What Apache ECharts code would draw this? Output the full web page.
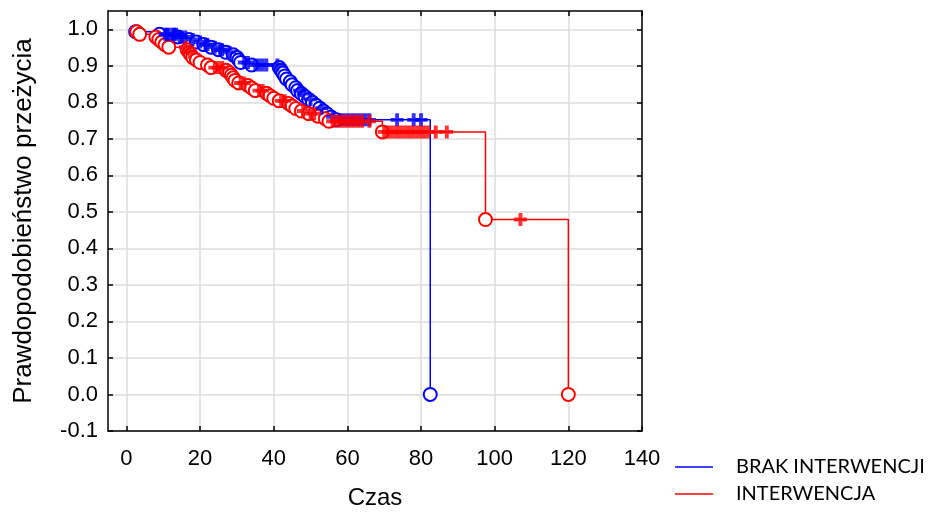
<!DOCTYPE html>
<html>
<head>
<meta charset="utf-8">
<script src="https://cdn.jsdelivr.net/npm/echarts@6/dist/echarts.min.js"></script>
<style>
  html, body { margin: 0; padding: 0; background: #fff; }
  #chart { width: 929px; height: 512px; }
</style>
</head>
<body>
<div id="chart"></div>
<script>
// Kaplan-Meier: event times and survival after each event
const blueTimes = [2.5, 9, 14, 17, 19, 21, 23, 25, 27, 29, 30, 30.5, 31, 34, 41.5, 42, 42.5, 43, 43.5, 44.5, 45, 46, 46.5, 47.5, 48.5, 49.5, 50.5, 51.5, 52.5, 53.5, 54.5, 55.5, 57, 82.5]
const blueSurv = [0.993, 0.986, 0.979, 0.972, 0.965, 0.958, 0.951, 0.944, 0.937, 0.93, 0.923, 0.916, 0.909, 0.902, 0.895, 0.888, 0.88, 0.872, 0.864, 0.856, 0.848, 0.84, 0.832, 0.824, 0.816, 0.808, 0.8, 0.792, 0.784, 0.776, 0.768, 0.76, 0.752, 0]
const blueCensored = [10.5, 11, 11.5, 12.5, 13, 13.5, 14.5, 15, 16, 18, 20, 21.5, 22, 24, 25.5, 26, 28, 32, 33, 35, 36, 37, 38, 41, 47, 48, 50, 53, 56, 58, 59, 60, 61, 62, 63, 64, 65, 66, 73.5, 78, 80]

const redTimes = [2.8, 3.6, 8, 8.8, 9.6, 10.5, 11.5, 16.5, 17, 17.5, 18, 19, 20, 22, 23, 27, 28, 28.5, 29, 29.5, 30.5, 33, 34, 35, 38, 39, 40, 41.5, 44, 45, 46, 47.5, 49.5, 52, 54, 55, 69.5, 97.5, 120]
const redSurv = [0.993, 0.986, 0.979, 0.972, 0.965, 0.958, 0.951, 0.944, 0.937, 0.93, 0.923, 0.916, 0.909, 0.902, 0.895, 0.888, 0.881, 0.874, 0.867, 0.86, 0.853, 0.846, 0.839, 0.832, 0.825, 0.818, 0.811, 0.804, 0.797, 0.79, 0.783, 0.776, 0.769, 0.762, 0.755, 0.748, 0.719, 0.479, 0]
const redCensored = [16, 17.2, 24, 25, 26, 31, 32, 36, 37, 42, 43, 48, 50, 51, 56, 57, 58, 59, 60, 61, 62, 63, 64, 66, 70, 71, 72, 73, 74, 75, 76, 77, 78, 79, 80, 81, 82, 84, 87, 107]

const xTicks = [0, 20, 40, 60, 80, 100, 120, 140]
const yTicks = [-0.1, 0, 0.1, 0.2, 0.3, 0.4, 0.5, 0.6, 0.7, 0.8, 0.9, 1.0]
const names = ['BRAK INTERWENCJI', 'INTERWENCJA']

function survAt(times, surv, t) {
  let s = 1
  for (let i = 0; i < times.length; i++) {
    if (times[i] <= t) s = surv[i]
  }
  return s
}

const plus = 'path://M3.5,0H6.5V3.5H10V6.5H6.5V10H3.5V6.5H0V3.5H3.5Z'

function kmSeries(name, color, times, surv, cens) {
  return [
    {
      name: name,
      type: 'line',
      step: 'end',
      data: times.map((t, i) => [t, surv[i]]),
      symbol: 'emptyCircle',
      symbolSize: 13,
      showAllSymbol: true,
      lineStyle: { color: color, width: 1.5 },
      itemStyle: { color: color, borderColor: color, borderWidth: 1.5 },
      z: 3,
    },
    {
      name: name + ' cenz',
      type: 'scatter',
      data: cens.map((t) => [t, survAt(times, surv, t)]),
      symbol: plus,
      symbolSize: 13,
      itemStyle: { color: color },
      z: 4,
    },
  ]
}

const tickStyle = { show: true, inside: true, length: 5, lineStyle: { color: '#000', width: 1.5 } }
const lineStyle = { show: true, onZero: false, lineStyle: { color: '#000', width: 1.5 } }

const option = {
  animation: false,
  backgroundColor: '#fff',
  grid: { left: 108, top: 11, right: 287, bottom: 81, outerBoundsMode: 'none', containLabel: false },
  legend: {
    orient: 'vertical',
    left: 670,
    top: 452,
    itemWidth: 38,
    itemHeight: 1.5,
    itemGap: 7,
    icon: 'rect',
    data: names,
    itemStyle: { borderWidth: 0 },
    textStyle: { fontFamily: 'Lato', fontSize: 20, color: '#000', padding: [0, 0, 0, 18] },
  },
  xAxis: [
    {
      type: 'value',
      min: -5,
      max: 140,
      name: 'Czas',
      nameLocation: 'middle',
      nameGap: 55,
      nameTextStyle: { fontFamily: 'Liberation Sans', fontSize: 24, color: '#000' },
      axisLine: lineStyle,
      axisTick: Object.assign({ customValues: xTicks }, tickStyle),
      axisLabel: { customValues: xTicks, margin: 17, fontFamily: 'Liberation Sans', fontSize: 22, color: '#000' },
      splitLine: { show: true, lineStyle: { color: '#dcdcdc', width: 1.5 } },
    },
    {
      type: 'value',
      position: 'top',
      min: -5,
      max: 140,
      axisLine: lineStyle,
      axisTick: Object.assign({ customValues: xTicks }, tickStyle),
      axisLabel: { show: false },
      splitLine: { show: false },
    },
  ],
  yAxis: [
    {
      type: 'value',
      min: -0.1,
      max: 1.05,
      name: 'Prawdopodobieństwo przeżycia',
      nameLocation: 'middle',
      nameGap: 71,
      nameTextStyle: { fontFamily: 'Liberation Sans', fontSize: 26, color: '#000' },
      axisLine: lineStyle,
      axisTick: Object.assign({ customValues: yTicks }, tickStyle),
      axisLabel: {
        customValues: yTicks,
        margin: 10,
        fontFamily: 'Liberation Sans',
        fontSize: 22,
        color: '#000',
        formatter: (v) => v.toFixed(1),
      },
      splitLine: { show: true, lineStyle: { color: '#dcdcdc', width: 1.5 } },
    },
    {
      type: 'value',
      position: 'right',
      min: -0.1,
      max: 1.05,
      axisLine: lineStyle,
      axisTick: Object.assign({ customValues: yTicks }, tickStyle),
      axisLabel: { show: false },
      splitLine: { show: false },
    },
  ],
  series: [
    ...kmSeries(names[0], '#0000ff', blueTimes, blueSurv, blueCensored),
    ...kmSeries(names[1], '#ff0000', redTimes, redSurv, redCensored),
  ],
}

const chart = echarts.init(document.getElementById('chart'))
chart.setOption(option)
window.addEventListener('resize', () => chart.resize())
</script>
</body>
</html>
